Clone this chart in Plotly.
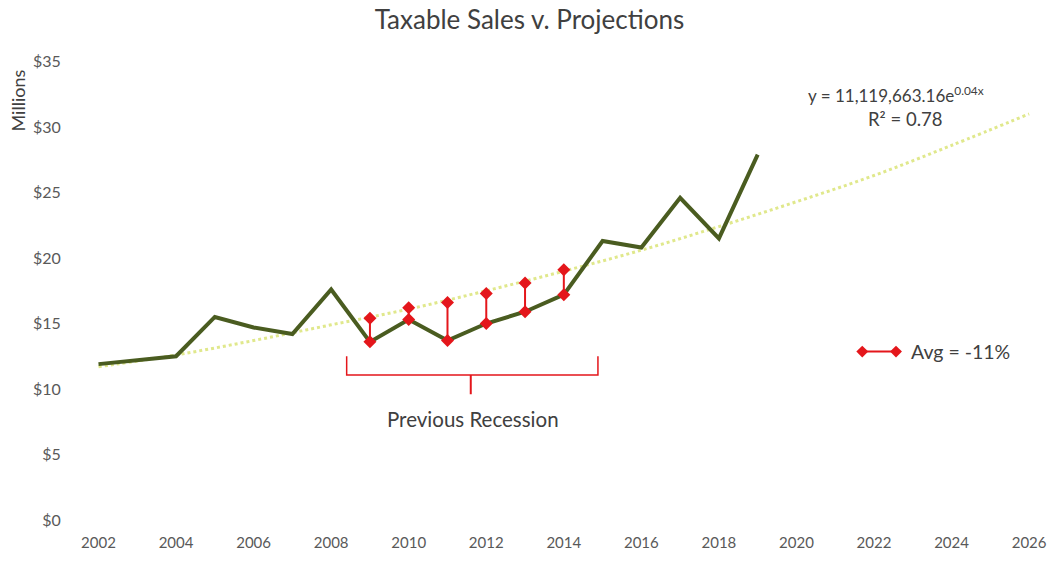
import plotly.graph_objects as go

# ---------------- data ----------------
years = [2002, 2003, 2004, 2005, 2006, 2007, 2008, 2009, 2010, 2011,
         2012, 2013, 2014, 2015, 2016, 2017, 2018, 2019]
sales = [11.9, 12.2, 12.5, 15.5, 14.7, 14.2, 17.6, 13.6, 15.3, 13.7,
         15.0, 15.9, 17.2, 21.3, 20.8, 24.6, 21.5, 27.9]

trend_years = [2002, 2004, 2006, 2008, 2010, 2012, 2014, 2016, 2018,
               2020, 2022, 2024, 2026]
trend_vals = [11.7, 12.6, 13.7, 14.9, 16.1, 17.5, 19.0, 20.6, 22.4,
              24.3, 26.3, 28.6, 31.0]

gap_years = [2009, 2010, 2011, 2012, 2013, 2014]
gap_actual = [13.6, 15.3, 13.7, 15.0, 15.9, 17.2]
gap_projected = [15.4, 16.2, 16.6, 17.3, 18.1, 19.1]

x_ticks = list(range(2002, 2027, 2))
y_ticks = [0, 5, 10, 15, 20, 25, 30, 35]

title_text = "Taxable Sales v. Projections"
equation_text = "y = 11,119,663.16e<sup>0.04x</sup>"
r2_text = "R² = 0.78"
legend_text = "Avg = -11%"
bracket_text = "Previous Recession"
y_title = "Millions"

# ---------------- layout geometry ----------------
W, H = 1059, 563
L, R, T, B = 83, 1040, 55, 530
FONT = "Lato, 'Open Sans', sans-serif"
GREY = "#404040"
RED = "#e4161b"


def px(x):
    return (x - L) / (R - L)


def py(y):
    return (B - y) / (B - T)


fig = go.Figure()

# trendline
fig.add_trace(go.Scatter(
    x=trend_years, y=trend_vals, mode="lines",
    line=dict(color="#e0e88c", width=3, dash="dot", shape="spline"),
    hoverinfo="skip", showlegend=False))

# actual sales
fig.add_trace(go.Scatter(
    x=years, y=sales, mode="lines",
    line=dict(color="#4a5c20", width=4),
    showlegend=False))

# gap drop lines
gx, gy = [], []
for yr, a, p in zip(gap_years, gap_actual, gap_projected):
    gx += [yr, yr, None]
    gy += [a, p, None]
fig.add_trace(go.Scatter(
    x=gx, y=gy, mode="lines+markers",
    line=dict(color=RED, width=2),
    marker=dict(symbol="diamond", size=10, color=RED),
    showlegend=False))

shapes = []
# bracket (data coords)
bx0, bx1, bxm = 2008.4, 2014.88, 2011.6
by_top, by_bar, by_tip = 12.5, 11.07, 9.6
shapes.append(dict(type="path", xref="x", yref="y",
                   path=f"M {bx0},{by_top} L {bx0},{by_bar} L {bx1},{by_bar} L {bx1},{by_top}",
                   line=dict(color=RED, width=1.5)))
shapes.append(dict(type="line", xref="x", yref="y",
                   x0=bxm, x1=bxm, y0=by_bar, y1=by_tip,
                   line=dict(color=RED, width=2)))

# legend glyph (paper coords)
lx0, lx1, ly = 868, 902, 358
shapes.append(dict(type="line", xref="paper", yref="paper",
                   x0=px(lx0), x1=px(lx1), y0=py(ly), y1=py(ly),
                   line=dict(color=RED, width=2)))
d = 6
for cx in (lx0, lx1):
    shapes.append(dict(
        type="path", xref="paper", yref="paper",
        path=(f"M {px(cx - d)},{py(ly)} L {px(cx)},{py(ly - d)} "
              f"L {px(cx + d)},{py(ly)} L {px(cx)},{py(ly + d)} Z"),
        fillcolor=RED, line=dict(color=RED, width=0)))

annotations = [
    dict(text=equation_text, xref="paper", yref="paper",
         x=px(902), y=py(95), xanchor="center", yanchor="middle",
         showarrow=False, font=dict(size=17, color=GREY, family=FONT)),
    dict(text=r2_text, xref="paper", yref="paper",
         x=px(912), y=py(120), xanchor="center", yanchor="middle",
         showarrow=False, font=dict(size=18.5, color=GREY, family=FONT)),
    dict(text=legend_text, xref="paper", yref="paper",
         x=px(915), y=py(358), xanchor="left", yanchor="middle",
         showarrow=False, font=dict(size=19.5, color=GREY, family=FONT)),
    dict(text=bracket_text, xref="paper", yref="paper",
         x=px(476), y=py(427), xanchor="center", yanchor="middle",
         showarrow=False, font=dict(size=20.5, color=GREY, family=FONT)),
    dict(text=y_title, xref="paper", yref="paper",
         x=px(18), y=py(101), xanchor="center", yanchor="middle",
         textangle=-90, showarrow=False,
         font=dict(size=18, color=GREY, family=FONT)),
]

fig.update_layout(
    width=W, height=H,
    margin=dict(l=L, r=W - R, t=T, b=H - B),
    paper_bgcolor="white", plot_bgcolor="white",
    title=dict(text=title_text, x=0.5, xref="container", xanchor="center",
               y=1 - 20 / H, yref="container", yanchor="middle",
               font=dict(size=26, color=GREY, family=FONT)),
    xaxis=dict(range=[2001.6, 2026.1], tickvals=x_ticks,
               ticktext=[str(v) for v in x_ticks],
               showgrid=False, zeroline=False, showline=False,
               ticks="outside", ticklen=9, tickcolor="rgba(0,0,0,0)",
               tickfont=dict(size=15, color="#595959", family=FONT)),
    yaxis=dict(range=[0, 35.5], tickvals=y_ticks,
               ticktext=[f"${v}" for v in y_ticks],
               showgrid=False, zeroline=False, showline=False,
               ticks="outside", ticklen=18, tickcolor="rgba(0,0,0,0)",
               tickfont=dict(size=16, color="#595959", family=FONT)),
    shapes=shapes, annotations=annotations,
)

fig.write_html("out.html")
